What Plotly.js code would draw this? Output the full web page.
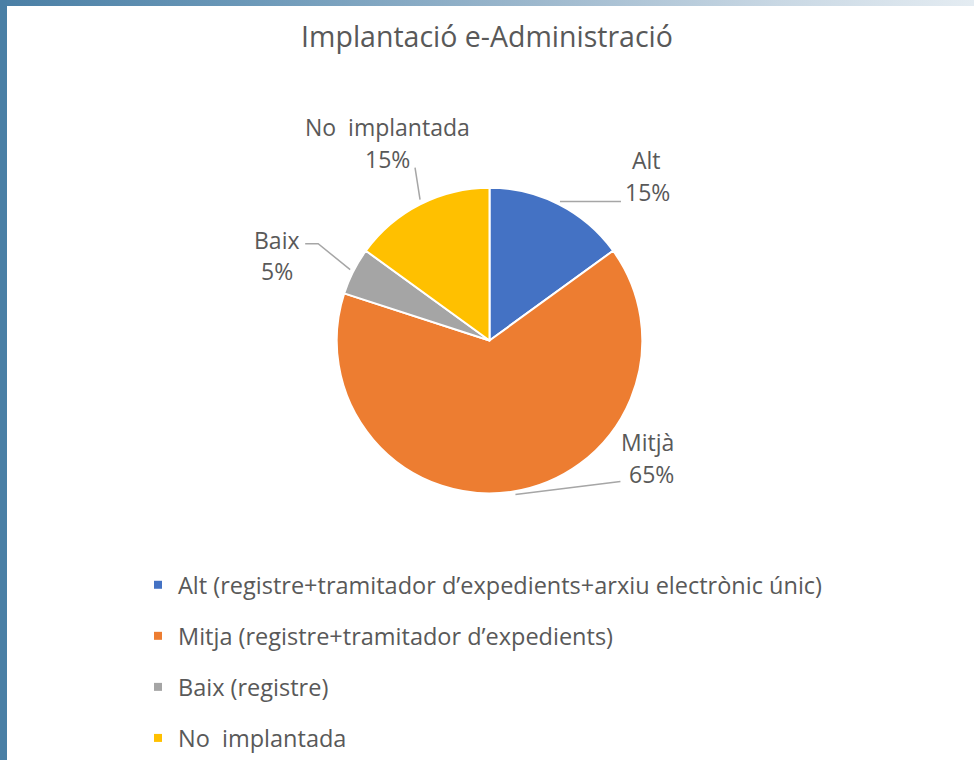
<!DOCTYPE html>
<html>
<head>
<meta charset="utf-8">
<script src="https://cdn.plot.ly/plotly-3.0.1.min.js"></script>
<style>
  html, body { margin:0; padding:0; background:#ffffff; }
  #wrap { position:relative; width:974px; height:760px; overflow:hidden; background:#ffffff; }
  #chart { position:absolute; left:0; top:0; width:974px; height:760px; }
  #topbar { position:absolute; left:0; top:0; width:974px; height:6px; z-index:10;
            background: linear-gradient(to right, #4a7fa5 0%, #6b98b8 25%, #9db8cd 55%, #c9d8e4 80%, #e4ecf2 100%); }
  #leftbar { position:absolute; left:0; top:0; width:7px; height:760px; z-index:10; background:#4a7fa5; }
</style>
</head>
<body>
<div id="wrap">
  <div id="chart"></div>
  <div id="topbar"></div>
  <div id="leftbar"></div>
</div>
<script>
// ---- data ----
const title = 'Implantació e-Administració';
const sliceNames = ['Alt', 'Mitjà', 'Baix', 'No  implantada'];
const legendNames = [
  'Alt (registre+tramitador d\u2019expedients+arxiu electrònic únic)',
  'Mitja (registre+tramitador d\u2019expedients)',
  'Baix (registre)',
  'No  implantada'
];
const values = [15, 65, 5, 15];
const colors = ['#4472C4', '#ED7D31', '#A5A5A5', '#FFC000'];

// ---- layout constants ----
const W = 974, H = 760;
const CX = 489.5, CY = 341, R = 153;
const textColor = '#595959';
const fontFam = '"Open Sans", Lato, sans-serif';

// label placement (pixel offsets from slice edge midpoint, screen coords)
// [nameDx, nameDy, pctDx, pctDy]
const labelOffsets = [
  [88, -44, 89, -12],
  [134, -49, 138, -17],
  [-77, -31, -76, 0],
  [-33, -77, -33, -45]
];
// leader line paths (pixel offsets, screen coords: y down)
const leaderPts = [
  [[1, -3], [62, -3]],
  [[2, 3], [107, -10]],
  [[-3, -1.5], [-35, -27.5], [-48, -27.5]],
  [[0, -4.7], [-5, -36.7]]
];

const total = values.reduce((a, b) => a + b, 0);
let cum = 0;
const edge = values.map(v => {
  const mid = (cum + v / 2) / total;
  cum += v;
  const th = 2 * Math.PI * mid;
  const px = CX + R * Math.sin(th);
  const py = CY - R * Math.cos(th);
  return { x: px / W, y: 1 - py / H };
});

const annotations = [];
const shapes = [];
values.forEach((v, i) => {
  const pct = Math.round(v / total * 100) + '%';
  const o = labelOffsets[i];
  const base = {
    xref: 'paper', yref: 'paper', x: edge[i].x, y: edge[i].y,
    showarrow: false, xanchor: 'center', yanchor: 'middle',
    font: { family: fontFam, size: 23, color: textColor }
  };
  annotations.push(Object.assign({}, base, { text: sliceNames[i], xshift: o[0], yshift: -o[1] }));
  annotations.push(Object.assign({}, base, { text: pct, xshift: o[2], yshift: -o[3] }));
  const pts = leaderPts[i];
  const path = pts.map((p, k) => (k === 0 ? 'M' : 'L') + p[0] + ',' + (-p[1])).join(' ');
  shapes.push({
    type: 'path', xref: 'paper', yref: 'paper',
    xsizemode: 'pixel', ysizemode: 'pixel',
    xanchor: edge[i].x, yanchor: edge[i].y,
    path: path,
    line: { color: '#a6a6a6', width: 1.5 }
  });
});

const pieTrace = {
  type: 'pie',
  labels: legendNames,
  values: values,
  sort: false,
  direction: 'clockwise',
  rotation: 0,
  textinfo: 'none',
  hoverinfo: 'label+percent',
  showlegend: false,
  marker: { colors: colors, line: { color: '#ffffff', width: 2 } },
  domain: { x: [(CX - R) / W, (CX + R) / W], y: [1 - (CY + R) / H, 1 - (CY - R) / H] }
};

const legendTraces = legendNames.map((n, i) => ({
  type: 'scatter', mode: 'markers', x: [null], y: [null],
  name: n, legendgroup: 'g' + i, showlegend: true,
  marker: { symbol: 'square', size: 8, color: colors[i] },
  hoverinfo: 'skip'
}));

const layout = {
  width: W, height: H,
  margin: { l: 0, r: 0, t: 0, b: 0 },
  paper_bgcolor: 'rgba(0,0,0,0)',
  plot_bgcolor: 'rgba(0,0,0,0)',
  font: { family: fontFam, color: textColor },
  title: {
    text: title,
    font: { family: fontFam, size: 28.5, color: textColor },
    x: 0.5, xanchor: 'center', xref: 'paper',
    y: 1 - 37 / H, yanchor: 'middle', yref: 'container'
  },
  xaxis: { visible: false },
  yaxis: { visible: false },
  showlegend: true,
  legend: {
    x: (178 - 40) / W, xanchor: 'left',
    y: 1 - 564 / H, yanchor: 'top',
    orientation: 'v',
    traceorder: 'grouped',
    tracegroupgap: 17.5,
    font: { family: fontFam, size: 23.5, color: textColor },
    bgcolor: 'rgba(0,0,0,0)',
    itemclick: false, itemdoubleclick: false
  },
  annotations: annotations,
  shapes: shapes
};

Plotly.newPlot('chart', [pieTrace].concat(legendTraces), layout, { displayModeBar: false, staticPlot: true });
</script>
</body>
</html>
